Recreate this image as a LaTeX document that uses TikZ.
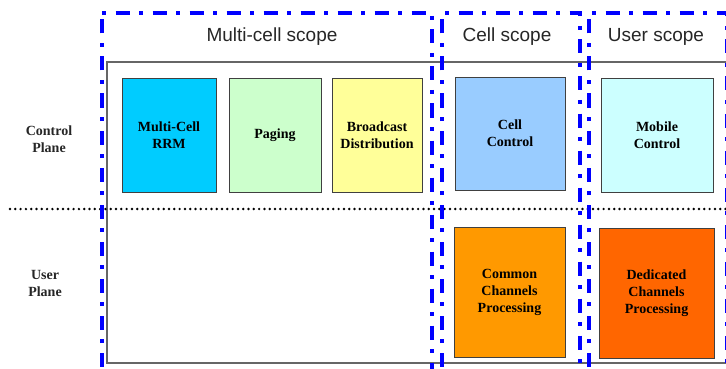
\documentclass[tikz,border=0pt]{standalone}
\usepackage{fontspec}
\setmainfont{Liberation Serif}
\newfontfamily\scopefont{Liberation Sans}
\definecolor{scopeblue}{HTML}{0000FF}
\definecolor{framegray}{HTML}{666666}
\definecolor{cMultiCell}{HTML}{00CCFF}
\definecolor{cPaging}{HTML}{CCFFCC}
\definecolor{cBroadcast}{HTML}{FFFF99}
\definecolor{cCellCtl}{HTML}{99CCFF}
\definecolor{cMobile}{HTML}{CCFFFF}
\definecolor{cCommon}{HTML}{FF9900}
\definecolor{cDedicated}{HTML}{FF6600}
\tikzset{
  scopebox/.style={draw=scopeblue, line width=4pt,
    dash pattern=on 4pt off 9.5pt on 14pt off 9.5pt},
  funcbox/.style={draw=black!75, line width=0.9pt, rectangle, inner sep=2pt,
    align=center, font=\fontsize{14}{17}\selectfont\bfseries},
  scopelabel/.style={font=\scopefont\fontsize{19}{22}\selectfont, text=black!85},
  planelabel/.style={align=center, font=\fontsize{14}{17}\selectfont\bfseries, text=black!85},
}
\begin{document}
\begin{tikzpicture}[x=1pt, y=-1pt]
  \useasboundingbox (0,0) rectangle (726,369);
  \clip (0,0) rectangle (726,369);

  % plane frame
  \draw[framegray, line width=1.4pt] (107,62) rectangle (740,363);

  % control / user plane separator
  \draw[line width=2.7pt, line cap=round, dash pattern=on 0pt off 5.3pt] (10,209) -- (726,209);

  % function blocks, control plane
  \node[funcbox, fill=cMultiCell, minimum width=94pt, minimum height=114pt] (mcrrm) at (169,135) {Multi-Cell\\RRM};
  \node[funcbox, fill=cPaging, minimum width=92pt, minimum height=114pt] (paging) at (275,135) {Paging};
  \node[funcbox, fill=cBroadcast, minimum width=90pt, minimum height=114pt] (bcast) at (377,135) {Broadcast\\Distribution};
  \node[funcbox, fill=cCellCtl, minimum width=110pt, minimum height=113pt] (cellctl) at (510,133.5) {Cell\\Control};
  \node[funcbox, fill=cMobile, minimum width=112pt, minimum height=114pt] (mobctl) at (657,135) {Mobile\\Control};

  % function blocks, user plane
  \node[funcbox, fill=cCommon, minimum width=111pt, minimum height=130pt] (common) at (509.5,292) {Common\\Channels\\Processing};
  \node[funcbox, fill=cDedicated, minimum width=115pt, minimum height=130pt] (dedicated) at (656.5,293) {Dedicated\\Channels\\Processing};

  % plane labels
  \node[planelabel] (cplane) at (49,139) {Control\\Plane};
  \node[planelabel] (uplane) at (45,283) {User\\Plane};

  % scope frames
  \draw[scopebox] (102,13) -- (432,13) -- (432,380);
  \draw[scopebox] (102,380) -- (102,13);
  \draw[scopebox] (442,380) -- (442,13) -- (580,13) -- (580,380);
  \draw[scopebox] (589,380) -- (589,13) -- (727,13) -- (727,380);

  % scope labels
  \node[scopelabel] (mcscope) at (272,37) {Multi-cell scope};
  \node[scopelabel] (cscope) at (507,37) {Cell scope};
  \node[scopelabel] (uscope) at (656,37) {User scope};
\end{tikzpicture}
\end{document}
